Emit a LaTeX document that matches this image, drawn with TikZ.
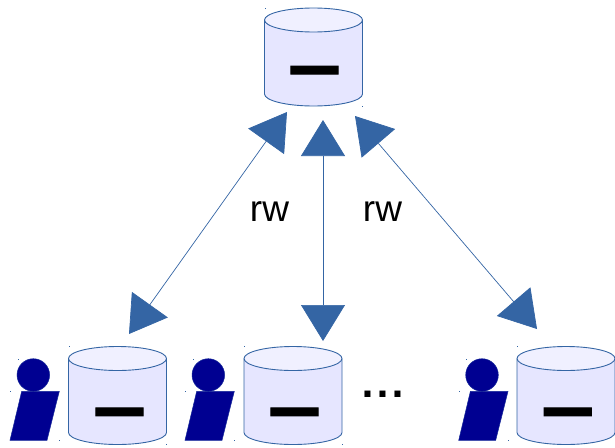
\documentclass[tikz,border=0pt]{standalone}
\usepackage{fontspec}
\setmainfont{Liberation Sans}
\newfontfamily\barfont[UprightFont=*,BoldFont=* Bold,BoldFeatures={FakeBold=2}]{DejaVu Sans}
\newfontfamily\dotfont{DejaVu Sans}
\usetikzlibrary{arrows.meta}
\definecolor{edgeblue}{HTML}{3465A4}
\definecolor{cylbody}{HTML}{E6E6FF}
\definecolor{cyltop}{HTML}{F0F0FF}
\definecolor{persona}{HTML}{000091}
\tikzset{
  link/.style={draw=edgeblue,line width=0.7pt,{Triangle[length=36pt,width=44pt,fill=edgeblue]}-{Triangle[length=36pt,width=44pt,fill=edgeblue]}},
  cylline/.style={draw=edgeblue,line width=0.9pt},
  bar/.style={inner sep=0pt,font=\barfont\fontsize{48}{48}\selectfont\bfseries},
  rwlabel/.style={inner sep=0pt,font=\fontsize{37}{37}\selectfont},
  speck/.style={fill=edgeblue,inner sep=0pt,minimum size=1pt,draw=none},
  personfill/.style={fill=persona,draw=edgeblue!40!persona,line width=0.5pt}
}
% #1 left, #2 top, #3 name, #4 #5 position of the bar relative to left, top
\newcommand{\dbcyl}[5]{%
  \fill[cylbody] (#1,#2+12) -- (#1,#2+86) arc[start angle=180,end angle=0,x radius=49,y radius=12] -- (#1+98,#2+12) -- cycle;
  \draw[cylline,fill=cyltop] (#1+49,#2+12) ellipse[x radius=49,y radius=12];
  \draw[cylline] (#1,#2+12) -- (#1,#2+86) arc[start angle=180,end angle=0,x radius=49,y radius=12] -- (#1+98,#2+12);
  \node[speck] at (#1+.5,#2) {};
  \node[speck] at (#1+98,#2+98) {};
  \node[bar] (#3) at (#1+#4,#2+#5) {\scalebox{1.1}[1.3]{—}};
}
\newcommand{\personfig}[2]{%
  \draw[personfill] (#1+33.3,375) circle[radius=16.3];
  \draw[personfill] (#1+21.7,391.3) -- (#1+59.3,391.3) -- (#1+47,440.3) -- (#1+10,440.3) -- cycle;
  \node[speck] (#2) at (#1+18,359) {};
  \node[speck] at (#1+10.5,391) {};
  \node[speck] at (#1+59.5,440) {};
}
\begin{document}
\begin{tikzpicture}[x=1pt,y=-1pt]
\useasboundingbox (0,0) rectangle (615,447);
\dbcyl{264.5}{8}{top}{50}{68.7}
\dbcyl{68.5}{346.5}{dba}{51}{72}
\dbcyl{244}{346.5}{dbb}{50.5}{72}
\dbcyl{517}{346.5}{dbc}{50.7}{72}
\personfig{0}{pa}
\personfig{175}{pb}
\personfig{448.7}{pc}
\coordinate (ta) at (287,112);
\coordinate (tb) at (323,120);
\coordinate (tc) at (355,116);
\coordinate (ba) at (129,334);
\coordinate (bb) at (323,341);
\coordinate (bc) at (537,329);
\draw[link] (ta) -- (ba);
\draw[link] (tb) -- (bb);
\draw[link] (tc) -- (bc);
\node[rwlabel] (rwa) at (269.5,212) {rw};
\node[rwlabel] (rwb) at (382.5,212) {rw};
\node[inner sep=0pt,font=\dotfont\fontsize{34}{34}\selectfont\bfseries] (more) at (383,394) {.\kern2pt.\kern2pt.};
\end{tikzpicture}
\end{document}
